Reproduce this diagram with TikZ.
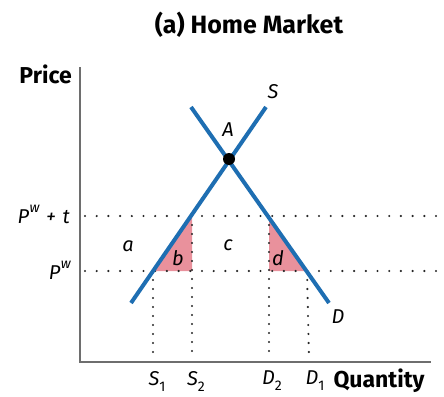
\documentclass[tikz,border=0pt]{standalone}
\usepackage{fontspec}
\setmainfont{Fira Sans}
\definecolor{curveblue}{RGB}{30,110,178}
\definecolor{areapink}{RGB}{233,145,156}
\definecolor{axisgray}{RGB}{110,110,110}
\tikzset{
  curve/.style={line width=4pt, curveblue},
  axisline/.style={line width=1.6pt, axisgray},
  dotline/.style={line width=2.4pt, line cap=round, dash pattern=on 0pt off 11.7pt, black!85},
  vdotline/.style={line width=2.4pt, line cap=round, dash pattern=on 0pt off 9pt, black!85},
  lab/.style={font=\fontsize{20}{20}\selectfont\itshape, inner sep=0pt},
  axlab/.style={font=\fontsize{23}{23}\selectfont\bfseries, inner sep=0pt},
}
\newcommand{\Pw}{P\kern0.5pt\raisebox{0.55em}{\fontsize{14}{14}\selectfont w}}
\newcommand{\subnum}[1]{\raisebox{-0.3em}{\fontsize{14}{14}\selectfont\upshape #1}}
\begin{document}
\begin{tikzpicture}[x=1pt,y=-1pt]
\useasboundingbox (0,0) rectangle (444,396);
% key points
\coordinate (Stop) at (266,107);
\coordinate (Sbot) at (131,303);
\coordinate (Dtop) at (191,107);
\coordinate (Dbot) at (329,303);
\coordinate (A) at (229,159);
\coordinate (S2) at (192,216);
\coordinate (S1) at (153,271);
\coordinate (D2) at (269,216);
\coordinate (D1) at (307,271);
\coordinate (S2b) at (192,271);
\coordinate (D2b) at (269,271);
\coordinate (Origin) at (80,362);
\coordinate (Ytop) at (80,67);
\coordinate (Xend) at (431,362);
\coordinate (PtL) at (85,216);
\coordinate (PtR) at (440,216);
\coordinate (PwL) at (85,271);
\coordinate (PwR) at (440,271);
% triangles
\fill[areapink] (S2) -- (S2b) -- (S1) -- cycle;
\fill[areapink] (D2) -- (D2b) -- (D1) -- cycle;
% dotted lines
\draw[dotline] (PtL) -- (PtR);
\draw[dotline] (PwL) -- (PwR);
\draw[vdotline] (S2) -- (192,358);
\draw[vdotline] (S1) -- (153,358);
\draw[vdotline] (D2) -- (269,358);
\draw[vdotline] (D1) -- (309,358);
% axes
\draw[axisline] (Ytop) -- (Origin) -- (Xend);
% curves
\draw[curve] (Sbot) -- (Stop);
\draw[curve] (Dtop) -- (Dbot);
\fill[black] (A) circle (6pt);
% labels
\node[font=\fontsize{25}{25}\selectfont\bfseries] (title) at (249,25) {(a) Home Market};
\node[axlab, anchor=east] (price) at (72,74) {Price};
\node[axlab] (qty) at (379,381) {Quantity};
\node[lab] (lS) at (273,92) {S};
\node[lab] (lD) at (338,317) {D};
\node[lab] (lA) at (228,130) {A};
\node[lab] (la) at (128,246) {a};
\node[lab] (lb) at (178,258) {b};
\node[lab] (lc) at (228,245) {c};
\node[lab] (ld) at (278,258) {d};
\node[lab, anchor=east] (lpt) at (70,214) {\Pw\,\,+\,\,t};
\node[lab, anchor=east] (lpw) at (71,270) {\Pw};
\node[lab] (ls1) at (157,381) {S\subnum{1}};
\node[lab] (ls2) at (196,381) {S\subnum{2}};
\node[lab] (ld2) at (272,381) {D\subnum{2}};
\node[lab] (ld1) at (315,381) {D\subnum{1}};
\end{tikzpicture}
\end{document}
